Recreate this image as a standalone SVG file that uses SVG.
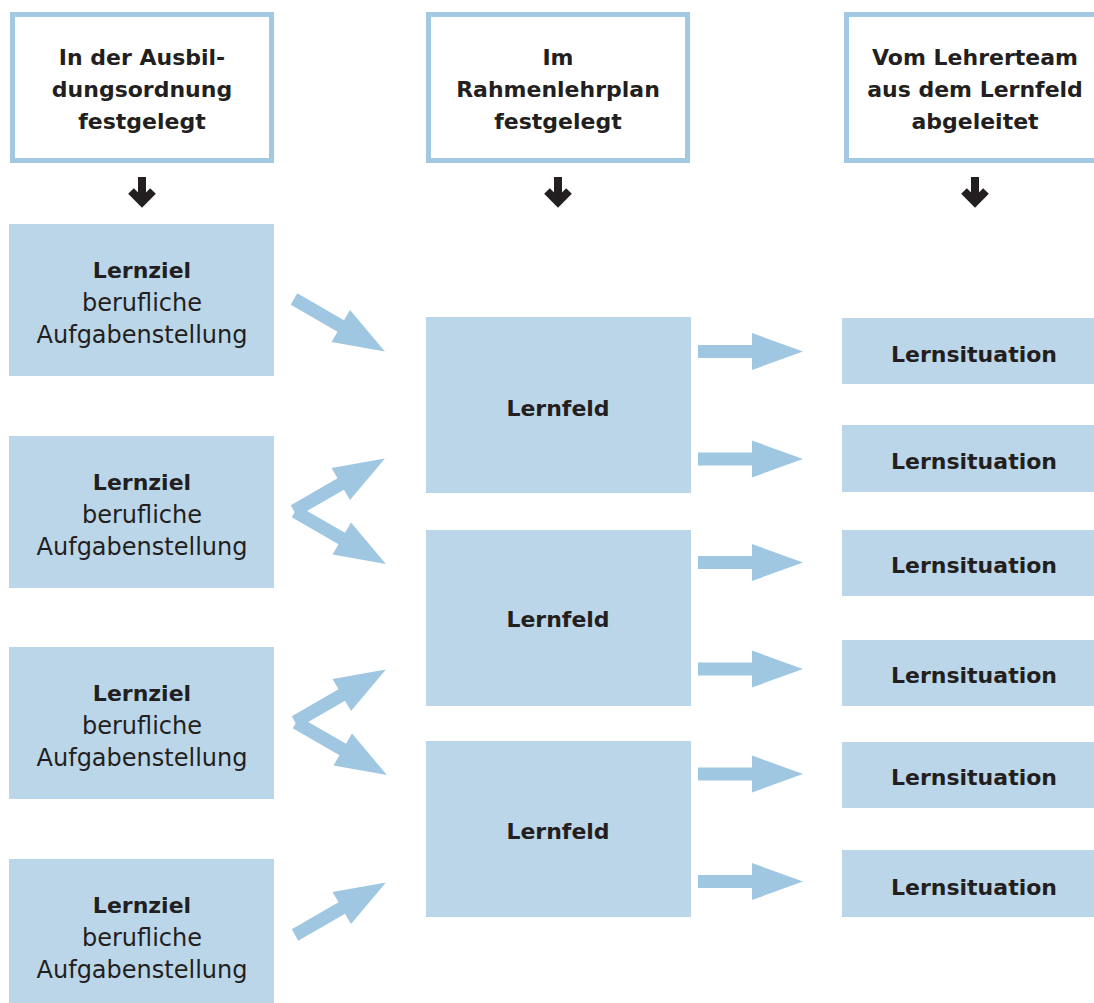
<svg xmlns="http://www.w3.org/2000/svg" width="1094" height="1003" viewBox="0 0 1094 1003">
  <style>
    .head { fill: #ffffff; stroke: #a2c8e2; stroke-width: 5; }
    .box { fill: #bbd6e9; }
    .t { font-family: "DejaVu Sans", "Liberation Sans", sans-serif; fill: #231f20; text-anchor: middle; }
    .b { font-weight: bold; font-size: 22px; }
    .r { font-weight: normal; font-size: 24px; }
    .down { stroke: #231f20; stroke-width: 8; fill: none; stroke-linejoin: miter; }
    .flow { fill: #a0c7e2; }
  </style>
  <defs>
    <!-- thick block arrow, tail at origin, pointing along +x -->
    <path id="blk" d="M0,-6.5 H54 V-18.5 L105,0 L54,18.5 V6.5 H0 Z"/>
    <!-- small black down arrow, centred on x=0 -->
    <g id="dn">
      <line x1="0" y1="177" x2="0" y2="200"/>
      <polyline points="-11,191 0,202 11,191"/>
    </g>
  </defs>
  <rect width="1094" height="1003" fill="#ffffff"/>

  <!-- column headers -->
  <g id="head-ausbildung">
    <rect class="head" x="12.5" y="14.5" width="259" height="146"/>
    <text class="t b" x="142" y="65">In der Ausbil-</text>
    <text class="t b" x="142" y="97">dungsordnung</text>
    <text class="t b" x="142" y="129">festgelegt</text>
  </g>
  <g id="head-rahmenlehrplan">
    <rect class="head" x="428.5" y="14.5" width="259" height="146"/>
    <text class="t b" x="558" y="65">Im</text>
    <text class="t b" x="558" y="97">Rahmenlehrplan</text>
    <text class="t b" x="558" y="129">festgelegt</text>
  </g>
  <g id="head-lehrerteam">
    <rect class="head" x="846.5" y="14.5" width="259" height="146"/>
    <text class="t b" x="975" y="65">Vom Lehrerteam</text>
    <text class="t b" x="975" y="97">aus dem Lernfeld</text>
    <text class="t b" x="975" y="129">abgeleitet</text>
  </g>

  <!-- Lernziele -->
  <g id="lernziel-1">
    <rect class="box" x="9" y="224" width="265" height="152"/>
    <text class="t b" x="142" y="278">Lernziel</text>
    <text class="t r" x="142" y="310.5">berufliche</text>
    <text class="t r" x="142" y="343">Aufgabenstellung</text>
  </g>
  <g id="lernziel-2">
    <rect class="box" x="9" y="436" width="265" height="152"/>
    <text class="t b" x="142" y="490">Lernziel</text>
    <text class="t r" x="142" y="522.5">berufliche</text>
    <text class="t r" x="142" y="555">Aufgabenstellung</text>
  </g>
  <g id="lernziel-3">
    <rect class="box" x="9" y="647" width="265" height="152"/>
    <text class="t b" x="142" y="701">Lernziel</text>
    <text class="t r" x="142" y="733.5">berufliche</text>
    <text class="t r" x="142" y="766">Aufgabenstellung</text>
  </g>
  <g id="lernziel-4">
    <rect class="box" x="9" y="859" width="265" height="152"/>
    <text class="t b" x="142" y="913">Lernziel</text>
    <text class="t r" x="142" y="945.5">berufliche</text>
    <text class="t r" x="142" y="978">Aufgabenstellung</text>
  </g>

  <!-- Lernfelder -->
  <g id="lernfeld-1">
    <rect class="box" x="426" y="317" width="265" height="176"/>
    <text class="t b" x="558" y="416">Lernfeld</text>
  </g>
  <g id="lernfeld-2">
    <rect class="box" x="426" y="530" width="265" height="176"/>
    <text class="t b" x="558" y="627">Lernfeld</text>
  </g>
  <g id="lernfeld-3">
    <rect class="box" x="426" y="741" width="265" height="176"/>
    <text class="t b" x="558" y="839">Lernfeld</text>
  </g>

  <!-- Lernsituationen -->
  <g id="lernsituation-1">
    <rect class="box" x="842" y="318" width="260" height="66"/>
    <text class="t b" x="974" y="362">Lernsituation</text>
  </g>
  <g id="lernsituation-2">
    <rect class="box" x="842" y="425" width="260" height="67"/>
    <text class="t b" x="974" y="469">Lernsituation</text>
  </g>
  <g id="lernsituation-3">
    <rect class="box" x="842" y="530" width="260" height="66"/>
    <text class="t b" x="974" y="573">Lernsituation</text>
  </g>
  <g id="lernsituation-4">
    <rect class="box" x="842" y="640" width="260" height="66"/>
    <text class="t b" x="974" y="683">Lernsituation</text>
  </g>
  <g id="lernsituation-5">
    <rect class="box" x="842" y="742" width="260" height="66"/>
    <text class="t b" x="974" y="785">Lernsituation</text>
  </g>
  <g id="lernsituation-6">
    <rect class="box" x="842" y="850" width="260" height="67"/>
    <text class="t b" x="974" y="895">Lernsituation</text>
  </g>

  <!-- connectors -->
  <g id="connectors">
    <g class="down">
      <use href="#dn" x="142"/>
      <use href="#dn" x="558"/>
      <use href="#dn" x="975"/>
    </g>
    <g class="flow">
      <!-- Lernziel to Lernfeld -->
      <use href="#blk" transform="translate(294,299) rotate(30)"/>
      <use href="#blk" transform="translate(294,511) rotate(-30)"/>
      <use href="#blk" transform="translate(295,511.5) rotate(30)"/>
      <use href="#blk" transform="translate(295,722) rotate(-30)"/>
      <use href="#blk" transform="translate(296,722.5) rotate(30)"/>
      <use href="#blk" transform="translate(295,935) rotate(-30)"/>
      <!-- Lernfeld to Lernsituation -->
      <use href="#blk" transform="translate(698,351.5)"/>
      <use href="#blk" transform="translate(698,459)"/>
      <use href="#blk" transform="translate(698,562.5)"/>
      <use href="#blk" transform="translate(698,669)"/>
      <use href="#blk" transform="translate(698,774)"/>
      <use href="#blk" transform="translate(698,881.5)"/>
    </g>
  </g>
</svg>
